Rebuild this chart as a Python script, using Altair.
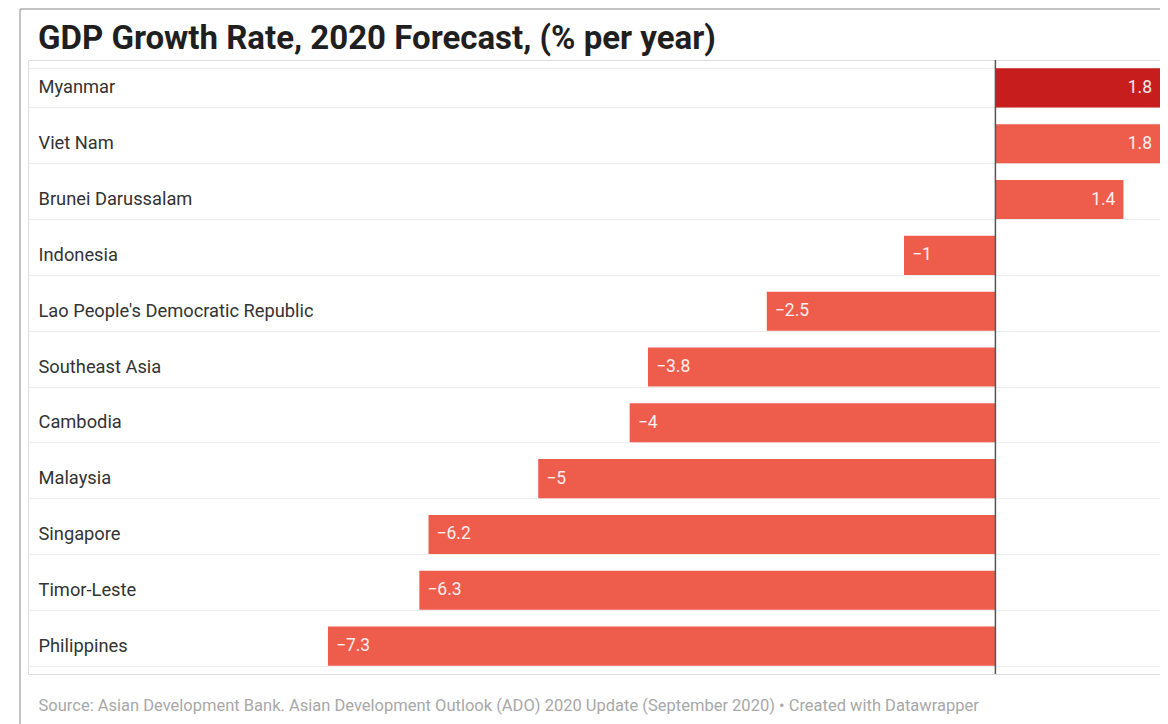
import altair as alt
import pandas as pd

countries = ["Myanmar", "Viet Nam", "Brunei Darussalam", "Indonesia",
             "Lao People's Democratic Republic", "Southeast Asia", "Cambodia",
             "Malaysia", "Singapore", "Timor-Leste", "Philippines"]
growth = [1.8, 1.8, 1.4, -1.0, -2.5, -3.8, -4.0, -5.0, -6.2, -6.3, -7.3]

title_text = "GDP Growth Rate, 2020 Forecast, (% per year)"
source_text = ("Source: Asian Development Bank. Asian Development Outlook (ADO) 2020 "
               "Update (September 2020) • Created with Datawrapper")

df = pd.DataFrame({"country": countries, "growth": growth})

FONT = "Roboto"
DARK = "#c71e1d"
LIGHT = "#ee5c4c"

x_scale = alt.Scale(domain=[-10.58, 1.8], nice=False, zero=False)
y_enc = alt.Y(
    "country:N", sort=None,
    scale=alt.Scale(paddingInner=0.3, paddingOuter=0.15),
    axis=alt.Axis(title=None, orient="left", ticks=False, domain=False,
                  labelAlign="left", labelPadding=-10, labelFontSize=18.3,
                  labelColor="#333333", labelFont=FONT, labelLimit=0,
                  grid=True, tickBand="extent", gridColor="#ececec",
                  gridWidth=1),
)

base = alt.Chart(df)

bars = base.mark_bar().encode(
    x=alt.X("growth:Q", scale=x_scale,
            axis=alt.Axis(labels=False, ticks=False, domain=False, grid=False,
                          title=source_text,
                          titleFont=FONT, titleFontSize=16.5, titleFontWeight="normal",
                          titleColor="#a8a8a8", titleAnchor="start", titleAlign="left",
                          titleX=10, titleY=36, titleBaseline="alphabetic")),
    x2=alt.datum(0),
    y=y_enc,
    color=alt.condition(alt.datum.country == "Myanmar", alt.value(DARK), alt.value(LIGHT)),
)

neg_labels = base.transform_filter(alt.datum.growth < 0).mark_text(
    align="left", dx=8, fontSize=17.5, font=FONT, color="white", opacity=0.9
).encode(
    x=alt.X("growth:Q", scale=x_scale),
    y=alt.Y("country:N", sort=None),
    text=alt.Text("growth:Q", format="~g"),
)

pos_labels = base.transform_filter(alt.datum.growth > 0).mark_text(
    align="right", dx=-8, fontSize=17.5, font=FONT, color="white", opacity=0.9
).encode(
    x=alt.X("growth:Q", scale=x_scale),
    y=alt.Y("country:N", sort=None),
    text=alt.Text("growth:Q", format="~g"),
)

zero_line = alt.Chart(pd.DataFrame({"z": [0]})).mark_rule(
    color="#555555", strokeWidth=1.5
).encode(x=alt.X("z:Q", scale=x_scale))

title_mark = alt.Chart(pd.DataFrame({"t": [title_text]})).mark_text(
    align="left", baseline="alphabetic", fontSize=33, font=FONT,
    fontWeight="bold", color="#1f1f1f", clip=False
).encode(text="t:N", x=alt.value(10), y=alt.value(-11))

frame_left = alt.Chart(pd.DataFrame({"a": [0]})).mark_rule(
    color="#888888", strokeWidth=1, clip=False
).encode(x=alt.value(-8), y=alt.value(-51), y2=alt.value(700))

frame_top = alt.Chart(pd.DataFrame({"a": [0]})).mark_rule(
    color="#888888", strokeWidth=1, clip=False
).encode(x=alt.value(-8), x2=alt.value(1132), y=alt.value(-51))

chart = alt.layer(bars, zero_line, neg_labels, pos_labels, title_mark,
                  frame_left, frame_top).properties(
    width=1132,
    height=614,
    autosize=alt.AutoSizeParams(type="none"),
    padding={"left": 20, "top": 52, "right": 0, "bottom": 50},
).configure_view(stroke=None).configure(background="white")

chart.save("out.html", embed_options={"renderer": "svg", "actions": False})
